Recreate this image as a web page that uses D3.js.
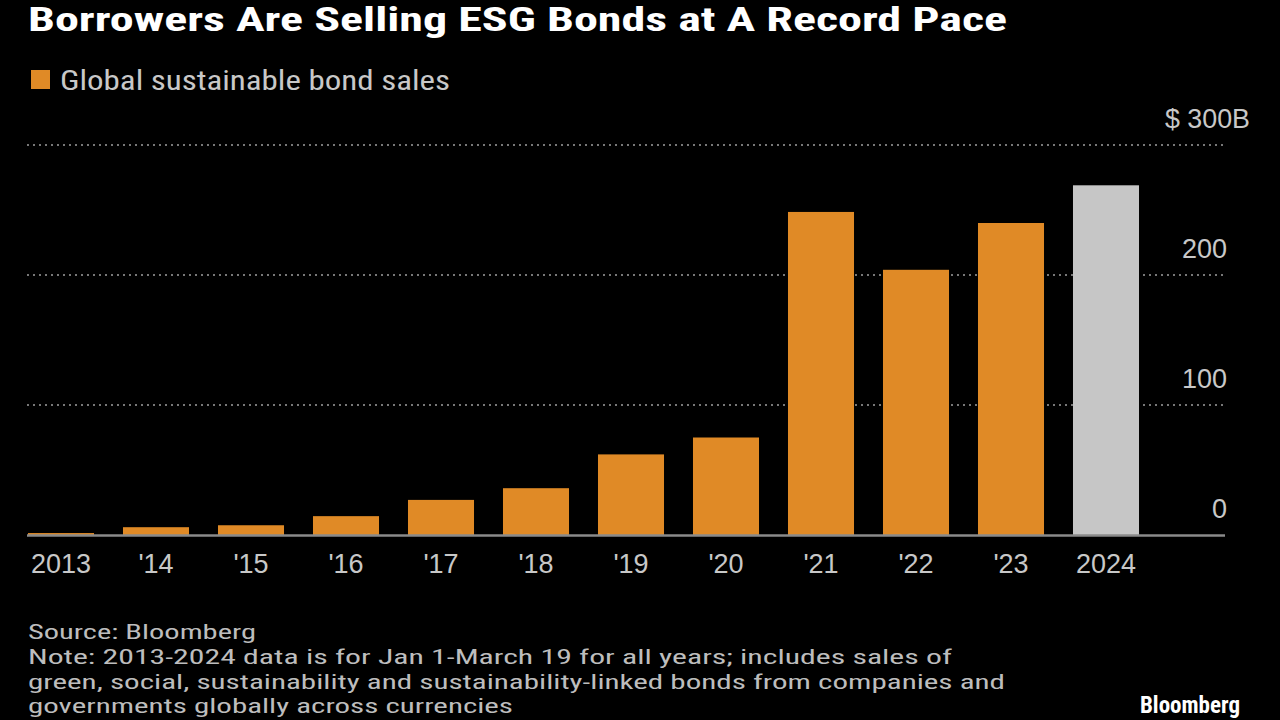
<!DOCTYPE html>
<html><head><meta charset="utf-8">
<script src="https://cdn.jsdelivr.net/npm/d3@7"></script>
<style>
html,body{margin:0;padding:0;background:#000;}
svg{display:block;}
text{font-family:"Liberation Sans Narrow","Roboto Condensed","Liberation Sans",sans-serif;}
</style></head>
<body>
<svg id="c" width="1280" height="720"></svg>
<script>
const categories = ["2013","'14","'15","'16","'17","'18","'19","'20","'21","'22","'23","2024"];
const values = [1.5, 6, 7.5, 14.5, 27, 36, 62, 75, 248.5, 204, 240, 269];
const yTicks = [0, 100, 200, 300];
const yTickLabels = ["0","100","200","$ 300B"];
const title = "Borrowers Are Selling ESG Bonds at A Record Pace";
const legendLabel = "Global sustainable bond sales";
const footLines = ["Source: Bloomberg",
 "Note: 2013-2024 data is for Jan 1-March 19 for all years; includes sales of",
 "green, social, sustainability and sustainability-linked bonds from companies and",
 "governments globally across currencies"];

const svg = d3.select("#c");
svg.append("rect").attr("width",1280).attr("height",720).attr("fill","#000");

const x = d3.scaleBand().domain(categories).range([13.5, 1153.5]).paddingInner(0.305).paddingOuter(0.1525);
const y = d3.scaleLinear().domain([0,300]).range([535,145]);

// title
svg.append("text").attr("x",28).attr("y",31).attr("fill","#fff")
  .attr("font-size",33).attr("font-weight","bold")
  .attr("textLength",979).attr("lengthAdjust","spacingAndGlyphs").text(title);

// legend
svg.append("rect").attr("x",31).attr("y",70).attr("width",19).attr("height",19).attr("fill","#E08A26");
svg.append("text").attr("x",60).attr("y",90).attr("fill","#c8c8c8").attr("font-size",27)
  .attr("textLength",390).attr("lengthAdjust","spacingAndGlyphs").text(legendLabel);

// gridlines
svg.append("g").selectAll("line").data(yTicks.filter(d=>d>0)).join("line")
  .attr("x1",27).attr("x2",1225).attr("y1",d=>y(d)).attr("y2",d=>y(d))
  .attr("stroke","#777").attr("stroke-width",2).attr("stroke-dasharray","2,4");

// y labels
svg.append("g").selectAll("text").data(yTicks).join("text")
  .attr("x",(d,i)=> i===3 ? 1250 : 1227)
  .attr("y",d=>y(d)-17).attr("text-anchor","end")
  .attr("fill","#c8c8c8").attr("font-size",27)
  .style("font-family","'Liberation Sans',sans-serif")
  .attr("textLength",(d,i)=> i===3 ? 85 : null)
  .attr("lengthAdjust","spacingAndGlyphs")
  .text((d,i)=>yTickLabels[i]);

// bars
svg.append("g").selectAll("rect").data(values).join("rect")
  .attr("x",(d,i)=>x(categories[i])).attr("width",x.bandwidth())
  .attr("y",d=>y(d)).attr("height",d=>y(0)-y(d))
  .attr("fill",(d,i)=> i===categories.length-1 ? "#C6C6C6" : "#E08A26");

// baseline
svg.append("line").attr("x1",27).attr("x2",1225).attr("y1",y(0)+0.5).attr("y2",y(0)+0.5)
  .attr("stroke","#8a8a8a").attr("stroke-width",2.5);

// x axis labels
const xAxis = d3.axisBottom(x).tickSize(0).tickPadding(0);
const gx = svg.append("g").attr("transform",`translate(0,${y(0)})`).call(xAxis);
gx.select(".domain").remove();
gx.selectAll("text").attr("y",38).attr("dy",0).attr("fill","#c8c8c8")
  .attr("font-size",27).attr("font-family",null)
  .style("font-family","'Liberation Sans',sans-serif");

// footer
const fLens = [228, 924, 977, 485];
const fY = [639, 664, 689, 713];
svg.append("g").selectAll("text").data(footLines).join("text")
  .attr("x",28).attr("y",(d,i)=>fY[i]).attr("fill","#bdbdbd").attr("font-size",21)
  .attr("textLength",(d,i)=>fLens[i]).attr("lengthAdjust","spacingAndGlyphs")
  .text(d=>d);

svg.append("text").attr("x",1240).attr("y",713).attr("text-anchor","end").attr("fill","#fff")
  .attr("font-size",23).attr("font-weight","bold").text("Bloomberg");
</script>
</body></html>
